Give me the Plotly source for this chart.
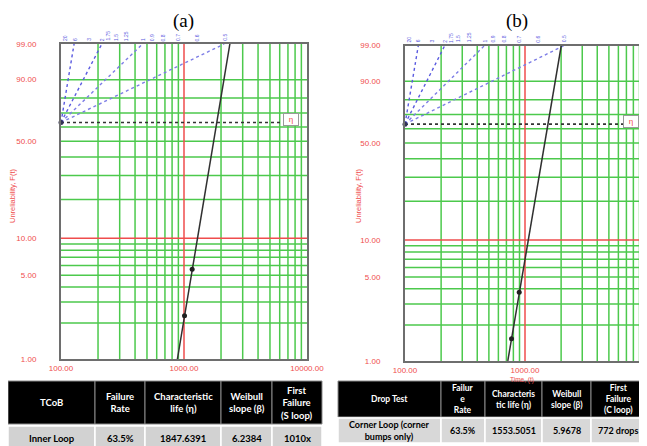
import numpy as np
import plotly.graph_objects as go

# ---------------- data ----------------
panel_titles = ["(a)", "(b)"]
eta_vals = [1847.6391, 1553.5051]
beta_vals = [6.2384, 5.9678]
fail_t = [[1010, 1165], [772, 895]]
fail_F = [[2.3, 5.6], [1.54, 3.74]]
ref_beta = [0.5, 1.0, 2.0]
beta_scale = [20, 6, 3, 2, 1.75, 1.5, 1.25, 1, 0.9, 0.8, 0.7, 0.6, 0.5]
yticks_F = [1, 5, 10, 50, 90, 99]
yticks_txt = ["1.00", "5.00", "10.00", "50.00", "90.00", "99.00"]
xticks_t = [100, 1000, 10000]
xticks_txt = ["100.00", "1000.00", "10000.00"]
grid_t = [200, 300, 400, 500, 600, 700, 800, 900,
          2000, 3000, 4000, 5000, 6000, 7000, 8000, 9000]
grid_F = [2, 3, 4, 5, 6, 7, 8, 9, 20, 30, 40, 50, 60, 70, 80, 90]
red_t = 1000
red_F = 10
eta_F = 63.212
t_lo, t_hi = 100, 10000
F_lo, F_hi = 1, 99
eta_box_t = [7400, 7700]
eta_line_end = [6400, 6900]

tbl_head = [
    [["TCoB"], ["Failure", "Rate"], ["Characteristic", "life (η)"],
     ["Weibull", "slope (β)"], ["First", "Failure", "(S loop)"]],
    [["Drop Test"], ["Failur", "e", "Rate"], ["Characteris", "tic life (η)"],
     ["Weibull", "slope (β)"], ["First", "Failure", "(C loop)"]],
]
tbl_rows = [
    [["Inner Loop"], ["63.5%"], ["1847.6391"], ["6.2384"], ["1010x"]],
    [["Corner Loop (corner", "bumps only)"], ["63.5%"], ["1553.5051"],
     ["5.9678"], ["772 drops"]],
]

# ---------------- layout constants (target pixels in the 647x446 view) ----------------
VW, VH = 647, 446          # browser view
OX, OY = 8, 8              # default page (body) margin
W, H = VW - OX, VH - OY    # figure size so it fits in the view


def px(x):
    return (x - OX) / W


def py(y):
    return 1 - (y - OY) / H


x_dom = [[px(61), px(307)], [px(405), px(645)]]
y_dom = [[py(359), py(44)], [py(361), py(45.5)]]
tbl_left = [8, 338]
tbl_colw = [[87, 50, 76, 51, 50], [103, 44, 57, 49, 54]]
tbl_head_y = [[381, 424], [381, 417]]
tbl_row_y = [[426, 452], [418, 443]]
tbl_row_fill = ["#d2d2d2", "#d8d8d8"]
tbl_head_size = [9.5, 8.5]
tbl_row_size = [9.5, 9]
title_x = [183, 517]
ylab_x = [12, 358]

RED = "#ef4d4d"
GREEN = "#4cc94c"
BLUE = "#5a5ae0"
LBLUE = "#7d7de6"
TICKFONT = dict(family="Liberation Sans", size=8, color=RED)
TBLFONT = "Lato"


def wy(F):
    F = np.asarray(F, dtype=float) / 100.0
    return np.log(-np.log(1.0 - F))


fig = go.Figure()
annotations = []
shapes = []
y_lo, y_hi = float(wy(F_lo)), float(wy(F_hi))
y_eta = float(wy(eta_F))

for i in range(2):
    xa = "x" if i == 0 else "x2"
    ya = "y" if i == 0 else "y2"
    common = dict(xaxis=xa, yaxis=ya, showlegend=False, hoverinfo="skip")

    # green grid
    gx, gy = [], []
    for t in grid_t:
        gx += [t, t, None]
        gy += [y_lo, y_hi, None]
    for F in grid_F:
        gx += [t_lo, t_hi, None]
        gy += [float(wy(F)), float(wy(F)), None]
    fig.add_trace(go.Scatter(x=gx, y=gy, mode="lines",
                             line=dict(color=GREEN, width=1.5), **common))
    # red reference lines
    fig.add_trace(go.Scatter(
        x=[red_t, red_t, None, t_lo, t_hi],
        y=[y_lo, y_hi, None, float(wy(red_F)), float(wy(red_F))],
        mode="lines", line=dict(color=RED, width=1.5), **common))
    # eta (63.2%) dotted line
    fig.add_trace(go.Scatter(x=[t_lo, eta_line_end[i]], y=[y_eta, y_eta],
                             mode="lines",
                             line=dict(color="#333333", width=1.6, dash="dot"),
                             **common))
    # beta estimation rays
    for b in ref_beta + [beta_vals[i]]:
        fig.add_trace(go.Scatter(x=[t_lo, t_lo * np.exp((y_hi - y_eta) / b)],
                                 y=[y_eta, y_hi], mode="lines",
                                 line=dict(color=LBLUE if b < 1.5 else BLUE,
                                           width=1.4, dash="dot"),
                                 **common))
    fig.add_trace(go.Scatter(x=[t_lo], y=[y_eta], mode="markers",
                             marker=dict(color="#333355", size=5), cliponaxis=False,
                             **common))
    # fitted Weibull line
    Fl = np.array([F_lo, F_hi], dtype=float)
    tl = eta_vals[i] * (-np.log(1 - Fl / 100.0)) ** (1.0 / beta_vals[i])
    fig.add_trace(go.Scatter(x=tl, y=wy(Fl), mode="lines",
                             line=dict(color="#303030", width=1.5), **common))
    # failure points
    fig.add_trace(go.Scatter(x=fail_t[i], y=wy(fail_F[i]), mode="markers",
                             marker=dict(color="#202020", size=5), **common))

    # beta scale labels on top
    for b in beta_scale:
        tx = t_lo * np.exp((y_hi - y_eta) / b)
        annotations.append(dict(x=float(np.log10(tx)), y=y_hi, xref=xa, yref=ya,
                                text=f"{b:g}", showarrow=False, textangle=-90,
                                yanchor="bottom", yshift=1,
                                font=dict(family="Liberation Sans", size=5, color=BLUE)))
    # eta box
    annotations.append(dict(x=float(np.log10(eta_box_t[i])), y=y_eta, xref=xa, yref=ya,
                            text="η", showarrow=False, yshift=3,
                            font=dict(family="Liberation Sans", size=8, color=RED),
                            bordercolor="#9a9a9a", borderwidth=1, borderpad=1,
                            bgcolor="white", width=12, height=9))
    # panel title
    annotations.append(dict(x=px(title_x[i]), y=py(21), xref="paper", yref="paper",
                            xanchor="center", yanchor="middle",
                            text=panel_titles[i], showarrow=False,
                            font=dict(family="Liberation Serif", size=19, color="black")))
    # y-axis title
    annotations.append(dict(x=px(ylab_x[i]), y=py(196), xref="paper", yref="paper",
                            xanchor="center", yanchor="middle",
                            text="Unreliability, F(t)", showarrow=False, textangle=-90,
                            font=dict(family="Liberation Sans", size=7.5, color=RED)))

    axis_common = dict(showline=True, mirror=True, linecolor="#6e6e6e", linewidth=2,
                       showgrid=False, zeroline=False, tickfont=TICKFONT, ticks="",
                       automargin=False)
    fig.update_layout(**{
        ("xaxis" if i == 0 else "xaxis2"): dict(
            type="log", range=[np.log10(t_lo), np.log10(t_hi)], domain=x_dom[i],
            tickmode="array", tickvals=xticks_t, ticktext=xticks_txt,
            ticklabelstandoff=0, anchor=ya, **axis_common),
        ("yaxis" if i == 0 else "yaxis2"): dict(
            range=[y_lo, y_hi], domain=y_dom[i], tickmode="array",
            tickvals=[float(v) for v in wy(yticks_F)], ticktext=yticks_txt,
            ticklabelstandoff=21, anchor=xa, **axis_common),
    })

annotations.append(dict(x=px(522), y=py(380), xref="paper", yref="paper",
                        xanchor="center", yanchor="middle",
                        text="Time, (t)", showarrow=False,
                        font=dict(family="Liberation Sans", size=6.5, color=RED)))

# ---------------- tables ----------------
for i in range(2):
    edges = [tbl_left[i]]
    for w in tbl_colw[i]:
        edges.append(edges[-1] + w)
    for j in range(len(tbl_colw[i])):
        x0, x1 = edges[j], edges[j + 1]
        h0, h1 = tbl_head_y[i]
        shapes.append(dict(type="rect", xref="paper", yref="paper",
                           x0=px(x0), x1=px(x1), y0=py(h1), y1=py(h0),
                           fillcolor="black", line=dict(color="#8a8a8a", width=1),
                           layer="above"))
        annotations.append(dict(x=px((x0 + x1) / 2), y=py((h0 + h1) / 2),
                                xref="paper", yref="paper", xanchor="center",
                                yanchor="middle", showarrow=False, align="center",
                                text="<br>".join(f"<b>{s}</b>" for s in tbl_head[i][j]),
                                font=dict(family=TBLFONT, size=tbl_head_size[i],
                                          color="white")))
        r0, r1 = tbl_row_y[i]
        shapes.append(dict(type="rect", xref="paper", yref="paper",
                           x0=px(x0), x1=px(x1), y0=py(r1), y1=py(r0),
                           fillcolor=tbl_row_fill[i], line=dict(color="white", width=1.5),
                           layer="above"))
        ty = 438 if i == 0 else (r0 + r1) / 2
        annotations.append(dict(x=px((x0 + x1) / 2), y=py(ty),
                                xref="paper", yref="paper", xanchor="center",
                                yanchor="middle", showarrow=False, align="center",
                                text="<br>".join(f"<b>{s}</b>" for s in tbl_rows[i][j]),
                                font=dict(family=TBLFONT, size=tbl_row_size[i],
                                          color="black")))

fig.update_layout(width=W, height=H, margin=dict(l=0, r=0, t=0, b=0, autoexpand=False),
                  paper_bgcolor="white", plot_bgcolor="white",
                  annotations=annotations, shapes=shapes, showlegend=False)

fig.write_html("out.html")
